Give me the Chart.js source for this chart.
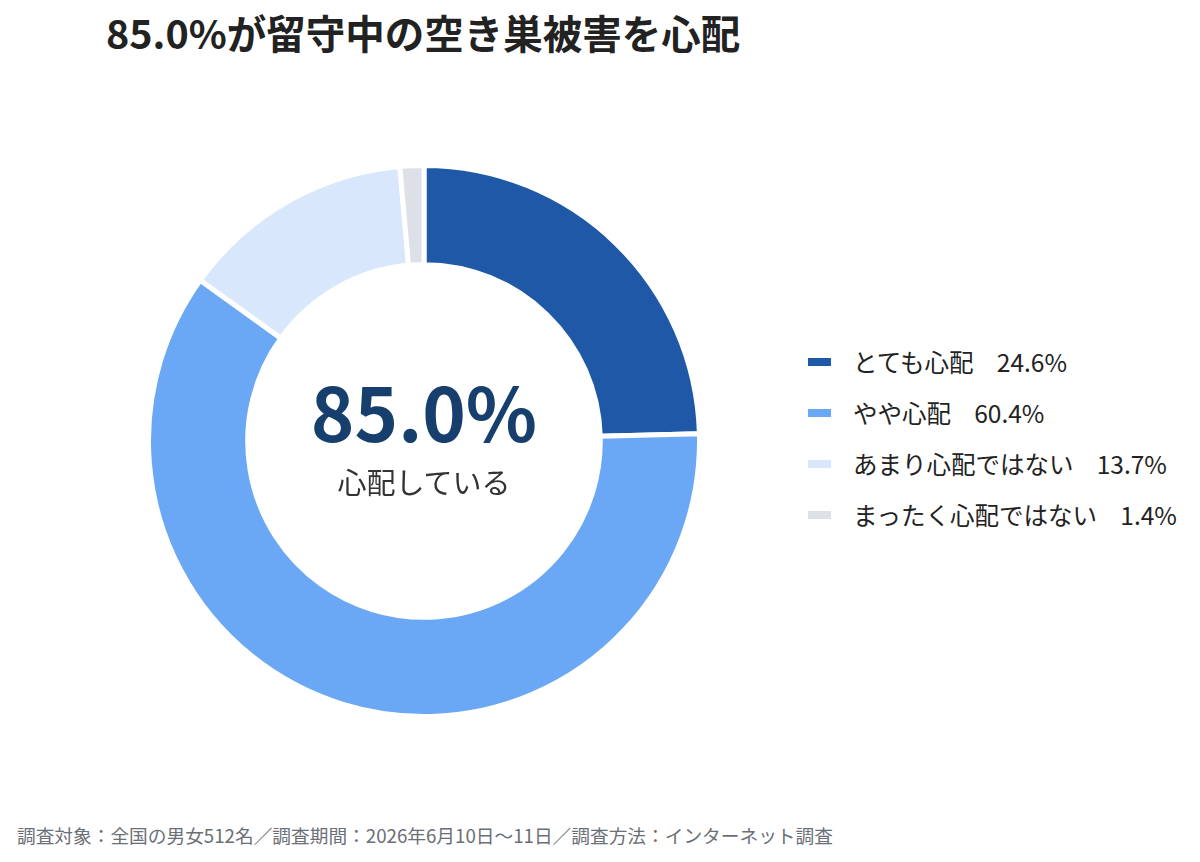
<!DOCTYPE html>
<html lang="ja">
<head>
<meta charset="utf-8">
<script src="https://cdn.jsdelivr.net/npm/chart.js@4"></script>
<style>
  html, body { margin: 0; padding: 0; background: #fff; }
  body { width: 1200px; height: 862px; position: relative; overflow: hidden;
         font-family: "Noto Sans CJK JP", "Noto Sans", sans-serif; }
  .title { position: absolute; left: 106px; top: 12px; font-size: 39.5px; line-height: 1;
           font-weight: 700; color: #222; white-space: nowrap; }
  .chart-box { position: absolute; left: 146px; top: 163px; width: 556px; height: 556px; }
  .center-big { position: absolute; left: 224px; width: 400px; top: 373px; text-align: center;
                font-size: 74px; line-height: 1; font-weight: 700; color: #173f6d; }
  .center-sub { position: absolute; left: 224px; width: 400px; top: 467px; text-align: center;
                font-size: 29px; line-height: 1; color: #333; }
  .legend { position: absolute; left: 808px; top: 336px; }
  .legend .row { display: flex; align-items: center; height: 51px; font-size: 24.5px; color: #222;
                 white-space: nowrap; }
  .legend .sw { width: 23px; height: 8px; margin-right: 22px; }
  .legend .val { margin-left: 0.95em; }
  .footer { position: absolute; left: 17px; top: 826px; font-size: 18.7px; line-height: 1;
            color: #6b6f76; white-space: nowrap; }
</style>
</head>
<body>
<div class="title">85.0%が留守中の空き巣被害を心配</div>
<div class="chart-box"><canvas id="chart"></canvas></div>
<div class="center-big">85.0%</div>
<div class="center-sub">心配している</div>
<div class="legend" id="legend"></div>
<div class="footer">調査対象：全国の男女512名／調査期間：2026年6月10日〜11日／調査方法：インターネット調査</div>
<script>
const labels = ["とても心配", "やや心配", "あまり心配ではない", "まったく心配ではない"];
const values = [24.6, 60.4, 13.7, 1.4];
const colors = ["#2058a8", "#6aa7f4", "#d8e7fb", "#dde0e7"];

//legend
const legend = document.getElementById("legend");
labels.forEach((label, i) => {
  const row = document.createElement("div");
  row.className = "row";
  row.innerHTML = '<span class="sw" style="background:' + colors[i] + '"></span>' +
    "<span>" + label + '</span><span class="val">' + values[i].toFixed(1) + "%</span>";
  legend.appendChild(row);
});

//chart
const ctx = document.getElementById("chart").getContext("2d");
const data = {
  labels,
  datasets: [
    {
      data: values,
      backgroundColor: colors,
      borderColor: "#ffffff",
      borderWidth: 5,
    },
  ],
};
const config = {
  type: "doughnut",
  data: data,
  options: {
    responsive: true,
    maintainAspectRatio: false,
    animation: false,
    cutout: "64%",
    plugins: {
      legend: { display: false },
      tooltip: { enabled: false },
    },
  },
};
const myChart = new Chart(ctx, config);
</script>
</body>
</html>
